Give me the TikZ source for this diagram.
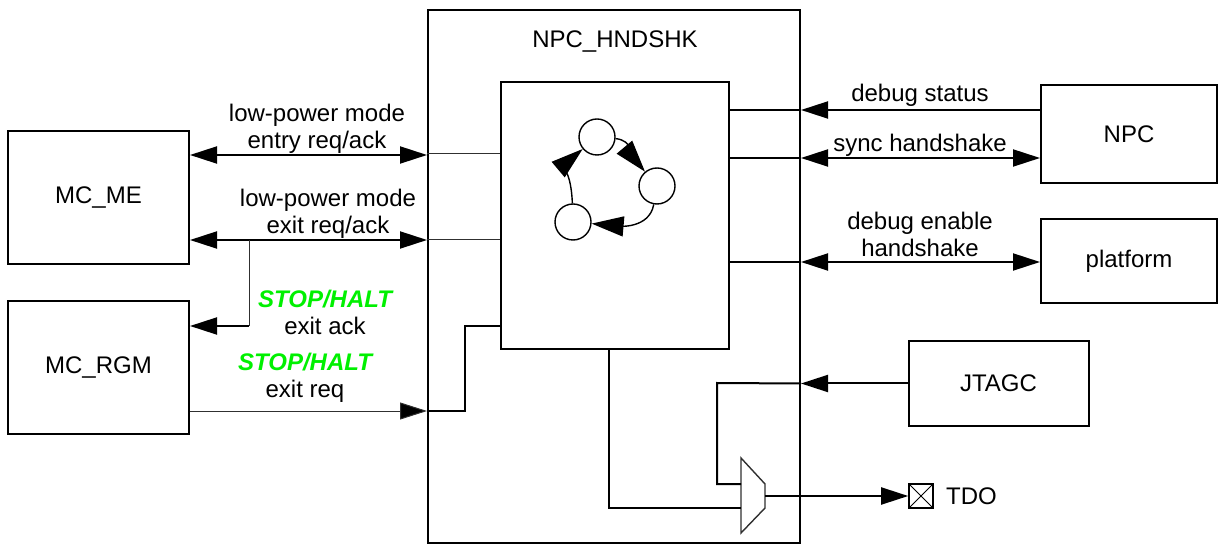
\documentclass[tikz,border=0pt]{standalone}
\usepackage{fontspec}
\setmainfont{Liberation Sans}
\usepackage{xcolor}
\definecolor{wire}{HTML}{000000}
\definecolor{thinwire}{HTML}{303030}
\definecolor{stopgreen}{HTML}{00F000}
\usepackage{tikz}
\usetikzlibrary{arrows.meta, positioning, calc}

\tikzset{
  box/.style={draw=wire, line width=1pt, inner sep=0pt, align=center},
  state/.style={draw=wire, circle, line width=0.7pt, minimum size=18pt, inner sep=0pt},
  lbl/.style={align=center, inner sep=0pt},
  sig/.style={wire, line width=1pt},
  thin/.style={thinwire, line width=0.5pt},
  tip/.style={-{Triangle[length=13.5pt, width=8.5pt, fill=wire]}},
  dtip/.style={{Triangle[length=13.5pt, width=8.5pt]}-{Triangle[length=13.5pt, width=8.5pt]}},
  cyc/.style={wire, line width=0.7pt, -{Triangle[length=16pt, width=10pt]}},
}
\newcommand{\stophalt}{\textcolor{stopgreen}{\bfseries\itshape STOP/HALT}}

\begin{document}
\begin{tikzpicture}[x=0.5pt, y=-0.5pt,
    every node/.style={font=\fontsize{12}{13.5}\selectfont}]
  \useasboundingbox (0,0) rectangle (1218,544);

  % Blocks
  \node[box, minimum width=90.5pt, minimum height=66.5pt] (mcme)  at (98.5,197.5) {MC\_ME};
  \node[box, minimum width=90.5pt, minimum height=66.5pt] (mcrgm) at (98.5,367.5) {MC\_RGM};
  \node[box, minimum width=186pt, minimum height=266.5pt] (outer) at (614,276.5) {};
  \node[lbl] (title) at (615,42) {NPC\_HNDSHK};
  \node[box, minimum width=114pt, minimum height=133.5pt] (inner) at (615,215.5) {};
  \node[box, minimum width=88pt, minimum height=49pt] (npc)      at (1129,134) {NPC};
  \node[box, minimum width=88pt, minimum height=42pt] (platform) at (1129,261) {platform};
  \node[box, minimum width=90pt, minimum height=42.5pt] (jtagc)  at (998.5,383.5) {JTAGC};
  \node[box, line width=0.8pt, minimum size=12pt,
        path picture={\draw[line width=0.5pt]
          (path picture bounding box.south west) -- (path picture bounding box.north east)
          (path picture bounding box.north west) -- (path picture bounding box.south east);}]
        (tdo) at (921,496) {};
  \node[lbl, right=6pt of tdo] (tdolbl) {TDO};

  % State machine
  \foreach \n/\x/\y in {s1/597/137, s2/657/186, s3/573/222}
    \node[state] (\n) at (\x,\y) {};
  \draw[cyc] (s1) to[out=-5, in=130] (s2);
  \draw[cyc] (s2) to[out=-100, in=-5] (s3);
  \draw[cyc] (s3) to[out=92, in=-140] (s1);

  % Left side
  \draw[sig, dtip] (mcme.east |- 0,155) -- (outer.west |- 0,155);
  \draw[thin] (outer.west |- 0,154) -- (inner.west |- 0,154);
  \node[lbl] (entry) at (317,128.5) {low-power mode\\entry req/ack};

  \draw[sig, dtip] (mcme.east |- 0,240) -- (outer.west |- 0,240);
  \draw[thin] (outer.west |- 0,240) -- (inner.west |- 0,240);
  \node[lbl] (exit) at (328,213.5) {low-power mode\\exit req/ack};

  \coordinate (br) at (249,240);
  \draw[thin] (br) -- (249,326);
  \draw[sig, tip] (249,326) -- (mcrgm.east |- 0,326);
  \node[lbl] (stopack) at (325,312) {\stophalt\\exit ack};

  \draw[thin, tip] (mcrgm.east |- 0,411) -- (outer.west |- 0,411);
  \draw[sig] (outer.west |- 0,411) -- (465,411) -- (465,326) -- (inner.west |- 0,326);
  \node[lbl] (stopreq) at (305,377.5) {\stophalt\\exit req};

  % Right side
  \draw[sig] (inner.east |- 0,110) -- (outer.east |- 0,110);
  \draw[sig, tip] (npc.west |- 0,110) -- (outer.east |- 0,110);
  \node[lbl] (dbgstat) at (920,95) {debug status};

  \draw[sig] (inner.east |- 0,158) -- (outer.east |- 0,158);
  \draw[sig, dtip] (outer.east |- 0,158) -- (npc.west |- 0,158);
  \node[lbl] (sync) at (920,145) {sync handshake};

  \draw[sig] (inner.east |- 0,262) -- (outer.east |- 0,262);
  \draw[sig, dtip] (outer.east |- 0,262) -- (platform.west |- 0,262);
  \node[lbl] (dbgen) at (920,234.5) {debug enable\\handshake};

  % TDO mux
  \draw[thin, line width=0.7pt] (741,458) coordinate (mux) -- (765,484) -- (765,508) -- (741,533) -- cycle;
  \draw[sig, tip] (jtagc.west) -- (outer.east |- jtagc.west);
  \draw[sig] (outer.east |- jtagc.west) -- (717,383) -- (717,484) -- (mux |- 0,484);
  \draw[sig] (609,349) -- (609,508) -- (mux |- 0,508);
  \draw[sig, tip] (765,496) -- (tdo.west);
\end{tikzpicture}
\end{document}
